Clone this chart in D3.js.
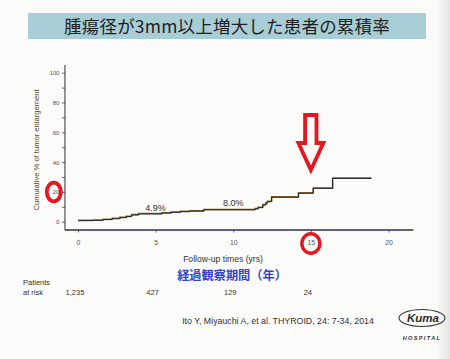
<!DOCTYPE html>
<html><head><meta charset="utf-8">
<script src="https://cdn.jsdelivr.net/npm/d3@7"></script>
<style>
html,body{margin:0;padding:0;background:#fbfbfa;}
svg{display:block;}
</style></head>
<body>
<script>
// ---- data ----
const title = "腫瘍径が3mm以上増大した患者の累積率";
const stepTimes  = [0, 1.0, 1.6, 2.2, 2.7, 3.1, 3.45, 3.9, 5.4, 6.0, 6.6, 7.2, 8.1, 11.4, 11.6, 11.9, 12.1, 12.2, 12.47, 14.2, 15.15, 16.4];
const stepValues = [0.7, 0.9, 1.4, 2.0, 2.7, 3.4, 4.5, 5.2, 5.8, 6.3, 6.7, 7.1, 8.0, 8.6, 9.4, 11.2, 12.5, 13.4, 16.4, 19.1, 22.4, 29.1];
const endTime = 18.9;
const xTicks = [0, 5, 10, 15, 20];
const yTicks = [0, 10, 20, 30, 40, 50, 60, 70, 80, 90, 100];
const yTickLabels = [0, 20, 40, 60, 80, 100];
const annotTimes = [5, 10];
const annotLabels = ["4.9%", "8.0%"];
const annotValues = [4.9, 8.0];
const riskTimes = [0, 5, 10, 15];
const riskCounts = ["1,235", "427", "129", "24"];
const xLabel = "Follow-up times (yrs)";
const xLabelJa = "経過観察期間（年）";
const yLabel = "Cumulative % of tumor enlargement";
const citation = "Ito Y, Miyauchi A, et al. THYROID, 24: 7-34, 2014";

const W = 450, H = 359;
const svg = d3.select("body").append("svg").attr("width", W).attr("height", H);

// page edge shading on the right
const defs = svg.append("defs");
const g1 = defs.append("linearGradient").attr("id","edge").attr("x1","0").attr("x2","1");
g1.append("stop").attr("offset","0").attr("stop-color","#fbfbfa");
g1.append("stop").attr("offset","1").attr("stop-color","#e4e4e2");
svg.append("rect").attr("x",436).attr("y",0).attr("width",14).attr("height",H).attr("fill","url(#edge)");

// title banner
svg.append("rect").attr("x",28).attr("y",13).attr("width",398).attr("height",26).attr("fill","#a9cdd5");
svg.append("text").attr("x",227).attr("y",32.5).attr("text-anchor","middle")
  .attr("font-family","'Noto Sans CJK JP', sans-serif").attr("font-size",17.5)
  .attr("fill","#1e1e1e").attr("letter-spacing","0.2").text(title);

// scales
const x = d3.scaleLinear().domain([0,20]).range([78,388.5]);
const y = d3.scaleLinear().domain([0,100]).range([221.7,72.7]);
const xMin = -0.84, xMax = 21.6, yMin = -5.6, yMax = 105.2;

const font = "'Liberation Sans', Arial, sans-serif";

// y axis
const yAxis = d3.axisLeft(y).tickValues(yTicks).tickSize(3)
  .tickFormat(d => yTickLabels.includes(d) ? d : "");
const gy = svg.append("g").attr("transform",`translate(${x(xMin)},0)`).call(yAxis);
gy.select(".domain").remove();
gy.selectAll(".tick line").attr("stroke","#444").attr("stroke-width",0.8);
gy.selectAll(".tick text").attr("font-family",font).attr("font-size",6).attr("fill","#555").attr("x",-5.5);
svg.append("line").attr("x1",x(xMin)).attr("x2",x(xMin)).attr("y1",y(yMax)).attr("y2",y(yMin))
  .attr("stroke","#333").attr("stroke-width",1);

// x axis
const xAxis = d3.axisBottom(x).tickValues(xTicks).tickSize(2.5);
const gx = svg.append("g").attr("transform",`translate(0,${y(yMin)})`).call(xAxis);
gx.select(".domain").remove();
gx.selectAll(".tick line").attr("stroke","#444").attr("stroke-width",0.8);
gx.selectAll(".tick text").attr("font-family",font).attr("font-size",6.8).attr("fill","#555").attr("y",10);
svg.append("line").attr("x1",x(xMin)).attr("x2",x(xMax)).attr("y1",y(yMin)).attr("y2",y(yMin))
  .attr("stroke","#2e2d5a").attr("stroke-width",1.6);

// step curve
const pts = stepTimes.map((t,i)=>[t, stepValues[i]]);
pts.push([endTime, stepValues[stepValues.length-1]]);
const line = d3.line().x(d=>x(d[0])).y(d=>y(d[1])).curve(d3.curveStepAfter);
svg.append("path").datum(pts).attr("d",line).attr("fill","none")
  .attr("stroke","#8a6a2a").attr("stroke-width",1.5).attr("transform","translate(0,-0.4)");
svg.append("path").datum(pts).attr("d",line).attr("fill","none")
  .attr("stroke","#1f2030").attr("stroke-width",1.0);

// annotations
annotTimes.forEach((t,i)=>{
  svg.append("text").attr("x",x(t)).attr("y",y(annotValues[i])-3.5).attr("text-anchor","middle")
    .attr("font-family",font).attr("font-size",9).attr("fill","#333").text(annotLabels[i]);
});

// axis labels
svg.append("text").attr("transform",`translate(39,150) rotate(-90)`).attr("text-anchor","middle")
  .attr("font-family",font).attr("font-size",7.6).attr("fill","#5a4528").text(yLabel);
svg.append("text").attr("x",223).attr("y",262).attr("text-anchor","middle")
  .attr("font-family",font).attr("font-size",8.6).attr("fill","#333").text(xLabel);
svg.append("text").attr("x",232).attr("y",280).attr("text-anchor","middle")
  .attr("font-family","'Noto Sans CJK JP', sans-serif").attr("font-weight","bold").attr("font-size",12.2)
  .attr("fill","#3444c4").text(xLabelJa);

// patients at risk
svg.append("text").attr("x",23).attr("y",284.5).attr("font-family",font).attr("font-size",7.5).attr("fill","#333").text("Patients");
svg.append("text").attr("x",23).attr("y",294.5).attr("font-family",font).attr("font-size",7.5).attr("fill","#333").text("at risk");
riskTimes.forEach((t,i)=>{
  svg.append("text").attr("x",x(t)-3).attr("y",294.5).attr("text-anchor","middle")
    .attr("font-family",font).attr("font-size",7.5).attr("fill","#333").text(riskCounts[i]);
});

// citation
svg.append("text").attr("x",278).attr("y",324).attr("text-anchor","middle")
  .attr("font-family",font).attr("font-size",8.8).attr("fill","#333").text(citation);

// Kuma logo
svg.append("ellipse").attr("cx",422).attr("cy",318).attr("rx",23).attr("ry",8.5)
  .attr("fill","none").attr("stroke","#333").attr("stroke-width",1.1);
svg.append("text").attr("x",423).attr("y",322).attr("text-anchor","middle")
  .attr("font-family",font).attr("font-style","italic").attr("font-weight","bold").attr("font-size",11.5)
  .attr("fill","#2a2a2a").text("Kuma");
svg.append("text").attr("x",422).attr("y",340).attr("text-anchor","middle")
  .attr("font-family",font).attr("font-style","italic").attr("font-weight","bold").attr("font-size",5.5)
  .attr("letter-spacing","1.4").attr("fill","#333").text("HOSPITAL");

// red markers
const red = "#e8141e";
svg.append("ellipse").attr("cx",53.8).attr("cy",192).attr("rx",7).attr("ry",9.3)
  .attr("fill","none").attr("stroke",red).attr("stroke-width",3.8);
svg.append("ellipse").attr("cx",x(15)).attr("cy",243.5).attr("rx",9).attr("ry",9.7)
  .attr("fill","none").attr("stroke",red).attr("stroke-width",3.4);
const ax = x(15);
const arrow = [[ax-5.8,115],[ax+5.6,115],[ax+5.6,143],[ax+12.5,143],[ax,170],[ax-12.5,143],[ax-5.8,143]];
svg.append("path").attr("d", d3.line()(arrow)+"Z").attr("fill","none")
  .attr("stroke",red).attr("stroke-width",3.8).attr("stroke-linejoin","miter");
</script>
</body></html>
